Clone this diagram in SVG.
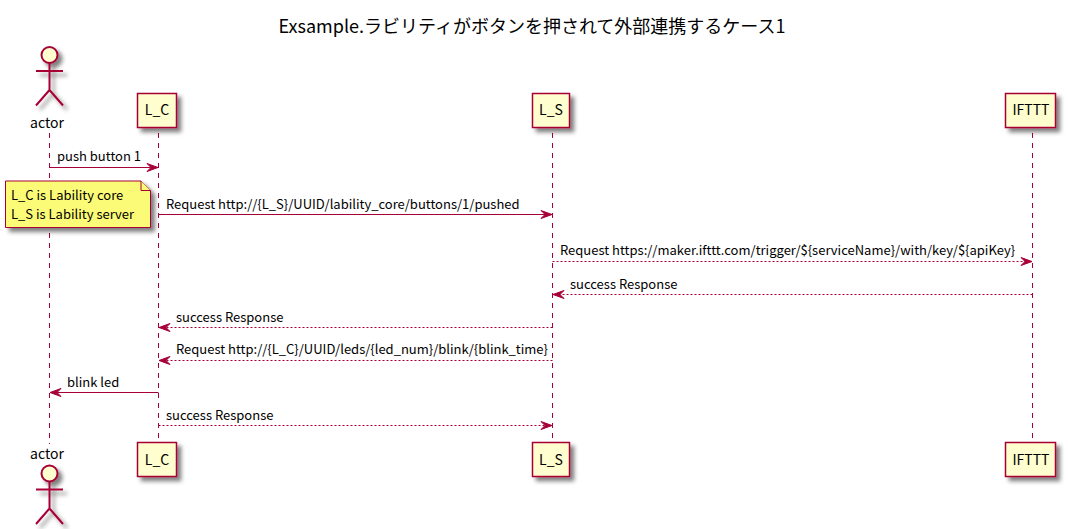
<svg xmlns="http://www.w3.org/2000/svg" width="1068" height="529" viewBox="0 0 1068 529">
<style>
text{font-family:"Noto Sans CJK JP","Noto Sans",sans-serif;font-size:13px;fill:#000}
.t{font-size:14px}
.title{font-size:18px}
.life{stroke:#A80036;stroke-width:1;stroke-dasharray:5,5;fill:none}
.box{fill:#FEFECE;stroke:#A80036;stroke-width:1.5}
.act{fill:none;stroke:#A80036;stroke-width:2}
.head{fill:#FEFECE;stroke:#A80036;stroke-width:2}
.m{stroke:#A80036;stroke-width:1;fill:none}
.d{stroke-dasharray:2,2}
.ah{fill:#A80036;stroke:#A80036;stroke-width:1}
.note{fill:#FBFB77;stroke:#A80036;stroke-width:1}
</style>
<defs>
<filter id="sh" x="-30%" y="-30%" width="170%" height="170%">
<feGaussianBlur in="SourceAlpha" stdDeviation="2" result="b"/>
<feColorMatrix in="b" type="matrix" values="0 0 0 0 0 0 0 0 0 0 0 0 0 0 0 0 0 0 0.5 0" result="c"/>
<feOffset in="c" dx="4" dy="4" result="o"/>
<feMerge><feMergeNode in="o"/><feMergeNode in="SourceGraphic"/></feMerge>
</filter>
<marker id="r" markerUnits="userSpaceOnUse" markerWidth="13" markerHeight="10" refX="12" refY="5" orient="auto" overflow="visible"><path class="ah" d="M1,1 L12,5 L1,9 L5,5 Z"/></marker>
</defs>
<text class="title" x="532" y="32.500" text-anchor="middle">Exsample.ラビリティがボタンを押されて外部連携するケース1</text>
<g id="lifelines">
<line class="life" x1="49.500" y1="133" x2="49.500" y2="444"/>
<line class="life" x1="158.500" y1="133" x2="158.500" y2="441"/>
<line class="life" x1="552.500" y1="133" x2="552.500" y2="441"/>
<line class="life" x1="1032.500" y1="133" x2="1032.500" y2="441"/>
</g>
<g id="actor-top">
<g filter="url(#sh)"><circle class="head" cx="49.500" cy="55" r="8"/><path class="act" d="M49.500,63 V90 M36,71 H63 M49.500,90 L36,105.500 M49.500,90 L63,105.500"/></g>
<text class="t" x="47" y="128" text-anchor="middle">actor</text>
</g>
<g id="actor-bottom">
<text class="t" x="47" y="459" text-anchor="middle">actor</text>
<g filter="url(#sh)"><circle class="head" cx="49.500" cy="473.500" r="8"/><path class="act" d="M49.500,481.500 V508.500 M36,489.500 H63 M49.500,508.500 L36,524 M49.500,508.500 L63,524"/></g>
</g>
<g id="lc-top"><rect class="box" filter="url(#sh)" x="137.500" y="93.500" width="39" height="34"/><text class="t" x="157" y="115" text-anchor="middle">L_C</text></g>
<g id="ls-top"><rect class="box" filter="url(#sh)" x="532.500" y="93.500" width="37" height="34"/><text class="t" x="551" y="115" text-anchor="middle">L_S</text></g>
<g id="ifttt-top"><rect class="box" filter="url(#sh)" x="1005.500" y="93.500" width="50" height="34"/><text class="t" x="1031" y="115" text-anchor="middle">IFTTT</text></g>
<g id="lc-bottom"><rect class="box" filter="url(#sh)" x="137.500" y="442.500" width="39" height="34"/><text class="t" x="157" y="465" text-anchor="middle">L_C</text></g>
<g id="ls-bottom"><rect class="box" filter="url(#sh)" x="532.500" y="442.500" width="37" height="34"/><text class="t" x="551" y="465" text-anchor="middle">L_S</text></g>
<g id="ifttt-bottom"><rect class="box" filter="url(#sh)" x="1005.500" y="442.500" width="50" height="34"/><text class="t" x="1031" y="465" text-anchor="middle">IFTTT</text></g>
<g id="note">
<g filter="url(#sh)"><path class="note" d="M5.500,181 H141 L150.500,190.500 V227.500 H5.500 Z"/><path class="note" d="M141,181 V190.500 H150.500"/></g>
<text x="11" y="200">L_C is Lability core</text>
<text x="11" y="219">L_S is Lability server</text>
</g>
<g id="connectors">
<line class="m" x1="49.500" y1="167.500" x2="158" y2="167.500" marker-end="url(#r)"/>
<line class="m" x1="158.500" y1="214.500" x2="552" y2="214.500" marker-end="url(#r)"/>
<line class="m d" x1="552.500" y1="261.500" x2="1032" y2="261.500" marker-end="url(#r)"/>
<line class="m d" x1="1032.500" y1="294.500" x2="553" y2="294.500" marker-end="url(#r)"/>
<line class="m d" x1="552.500" y1="327.500" x2="159" y2="327.500" marker-end="url(#r)"/>
<line class="m d" x1="552.500" y1="360.500" x2="159" y2="360.500" marker-end="url(#r)"/>
<line class="m" x1="158.500" y1="392.500" x2="50" y2="392.500" marker-end="url(#r)"/>
<line class="m d" x1="158.500" y1="425.500" x2="552" y2="425.500" marker-end="url(#r)"/>
</g>
<g id="labels">
<text x="57" y="161">push button 1</text>
<text x="166" y="209">Request http://{L_S}/UUID/lability_core/buttons/1/pushed</text>
<text x="560" y="255">Request https://maker.ifttt.com/trigger/${serviceName}/with/key/${apiKey}</text>
<text x="570" y="289">success Response</text>
<text x="176" y="322">success Response</text>
<text x="176" y="354">Request http://{L_C}/UUID/leds/{led_num}/blink/{blink_time}</text>
<text x="67" y="387">blink led</text>
<text x="166" y="420">success Response</text>
</g>
</svg>
